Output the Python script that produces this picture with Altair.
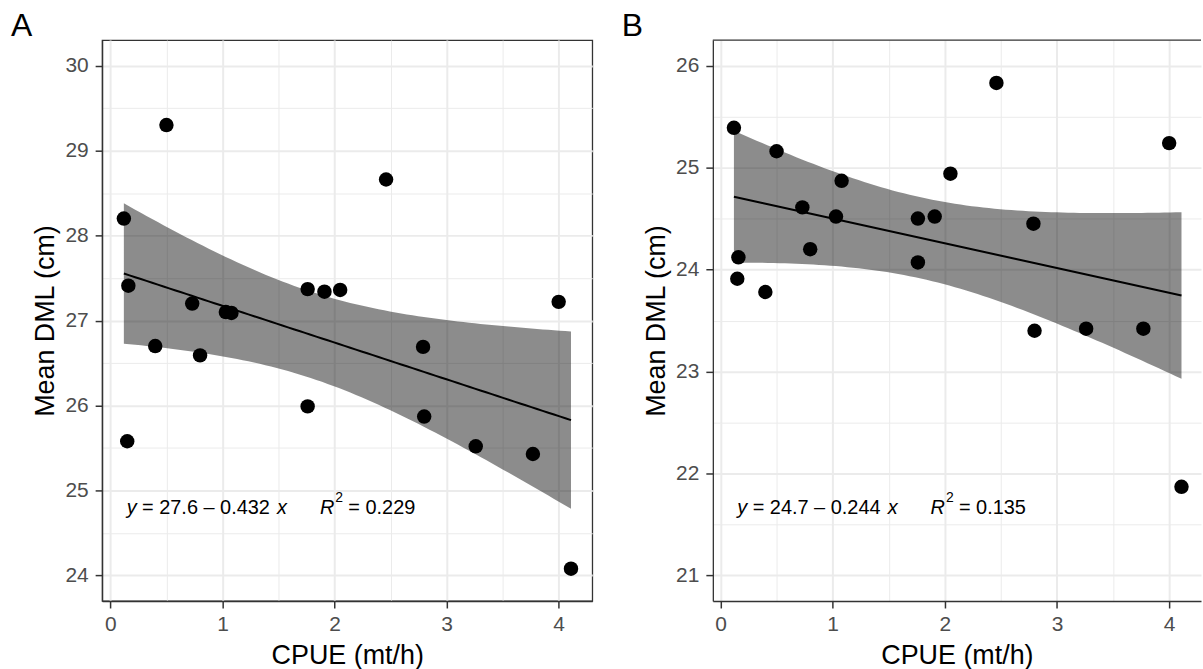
import numpy as np
import pandas as pd
import altair as alt

# ---------------- data ----------------
cpue = [0.12, 0.15, 0.16, 0.40, 0.50, 0.73, 0.80, 1.03, 1.08, 1.76,
        1.76, 1.91, 2.05, 2.46, 2.79, 2.80, 3.26, 3.77, 4.00, 4.11]
dml_a = [28.20, 25.58, 27.41, 26.70, 29.30, 27.20, 26.59, 27.10, 27.09, 27.37,
         25.99, 27.34, 27.36, 28.66, 26.69, 25.87, 25.52, 25.43, 27.22, 24.08]
dml_b = [25.39, 23.91, 24.12, 23.78, 25.16, 24.61, 24.20, 24.52, 24.87, 24.50,
         24.07, 24.52, 24.94, 25.83, 24.45, 23.40, 23.42, 23.42, 25.24, 21.87]

tags = ["A", "B"]
eq_labels = ["= 27.6 \u2013 0.432", "= 24.7 \u2013 0.244"]
r2_labels = ["= 0.229", "= 0.135"]

x_ticks = [0, 0.5, 1, 1.5, 2, 2.5, 3, 3.5, 4]
y_ticks_a = [24, 24.5, 25, 25.5, 26, 26.5, 27, 27.5, 28, 28.5, 29, 29.5, 30]
y_ticks_b = [21, 21.5, 22, 22.5, 23, 23.5, 24, 24.5, 25, 25.5, 26]
x_dom_a = [-0.074, 4.30]
x_dom_b = [-0.068, 4.284]
y_dom_a = [23.7, 30.3]
y_dom_b = [20.75, 26.25]

T_CRIT = 2.100922  # t quantile 0.975, 18 df

FONT = "Liberation Sans"
H = 563
W_A = 492
W_B = 490


def fit_band(x, y, n_pts=80):
    x = np.asarray(x, float)
    y = np.asarray(y, float)
    n = len(x)
    b, a = np.polyfit(x, y, 1)
    res = y - (a + b * x)
    s = np.sqrt(np.sum(res ** 2) / (n - 2))
    xbar = x.mean()
    sxx = np.sum((x - xbar) ** 2)
    xs = np.linspace(x.min(), x.max(), n_pts)
    fit = a + b * xs
    se = s * np.sqrt(1.0 / n + (xs - xbar) ** 2 / sxx)
    return pd.DataFrame({"CPUE": xs, "fit": fit,
                         "lo": fit - T_CRIT * se, "hi": fit + T_CRIT * se})


def cond(test, yes, no):
    return {"condition": {"test": test, "value": yes}, "value": no}


def panel(tag, yvals, xdom, ydom, yticks, width, eq, r2, full_box):
    pts = pd.DataFrame({"CPUE": cpue, "DML": yvals})
    band = fit_band(cpue, yvals)

    xaxis = alt.Axis(values=x_ticks, title="CPUE (mt/h)", format=".0f",
                     labelExpr="datum.value % 1 === 0 ? datum.label : ''",
                     gridWidth=cond("datum.value % 1 === 0", 2, 1),
                     tickOpacity=cond("datum.value % 1 !== 0", 0, 1),
                     labelPadding=6, titlePadding=8, labelFlush=False)
    yaxis = alt.Axis(values=yticks, title="Mean DML (cm)", format=".0f",
                     labelExpr="datum.value % 1 === 0 ? datum.label : ''",
                     gridWidth=cond("datum.value % 1 === 0", 2, 1),
                     tickOpacity=cond("datum.value % 1 !== 0", 0, 1),
                     labelPadding=7, titlePadding=5, labelFlush=False)
    xs = alt.Scale(domain=xdom, nice=False, zero=False)
    ys = alt.Scale(domain=ydom, nice=False, zero=False)

    def X(f):
        return alt.X(f, type="quantitative", scale=xs, axis=xaxis, title="CPUE (mt/h)")

    def Y(f):
        return alt.Y(f, type="quantitative", scale=ys, axis=yaxis, title="Mean DML (cm)")

    ribbon = alt.Chart(band).mark_area(color="black", opacity=0.45).encode(
        x=X("CPUE"), y=Y("lo"), y2="hi")
    line = alt.Chart(band).mark_line(color="black", strokeWidth=2).encode(
        x=X("CPUE"), y=Y("fit"))
    points = alt.Chart(pts).mark_circle(size=210, color="black", opacity=1).encode(
        x=X("CPUE"), y=Y("DML"))

    one = pd.DataFrame({"k": [0]})
    x0 = 0.05 * width
    yb = 476

    def txt(s, dx, italic=False, size=20, dy=0):
        return alt.Chart(one).mark_text(
            text=s, font=FONT, fontSize=size, align="left", baseline="alphabetic",
            fontStyle="italic" if italic else "normal", color="black",
            dx=dx, dy=dy).encode(x=alt.value(x0), y=alt.value(yb))

    ann = [txt("y", 0, True), txt(eq, 15.5), txt("x", 151, True),
           txt("R", 194, True), txt("2", 209.5, False, 14, -12.3),
           txt(r2, 222.5)]

    tag_mark = alt.Chart(one).mark_text(
        text=tag, font=FONT, fontSize=32, align="left", baseline="alphabetic",
        color="black").encode(x=alt.value(-91.5), y=alt.value(-4))

    layers = [ribbon, line, points] + ann + [tag_mark]
    if not full_box:
        top_rule = alt.Chart(one).mark_rule(color="#333333", strokeWidth=1.3).encode(
            x=alt.value(0), x2=alt.value(width), y=alt.value(0))
        layers.append(top_rule)
    ch = alt.layer(*layers).properties(width=width, height=H)
    if not full_box:
        ch = ch.properties(view=alt.ViewBackground(stroke="transparent"))
    return ch


pa = panel(tags[0], dml_a, x_dom_a, y_dom_a, y_ticks_a, W_A, eq_labels[0], r2_labels[0], True)
pb = panel(tags[1], dml_b, x_dom_b, y_dom_b, y_ticks_b, W_B, eq_labels[1], r2_labels[1], False)

chart = alt.hconcat(pa, pb, spacing=27).properties(
    padding={"left": 9.5, "top": 8, "right": 0, "bottom": 0}
).configure_view(
    stroke="#333333", strokeWidth=1.3
).configure_axis(
    gridColor="#EBEBEB", domainColor="#333333", domainWidth=1.3,
    tickColor="#333333", tickWidth=1.5, tickSize=7,
    labelFont=FONT, labelFontSize=21, labelColor="#4D4D4D",
    titleFont=FONT, titleFontSize=27, titleFontWeight="normal", titleColor="black"
)

chart.save("out.html", embed_options={"renderer": "svg", "actions": False})
